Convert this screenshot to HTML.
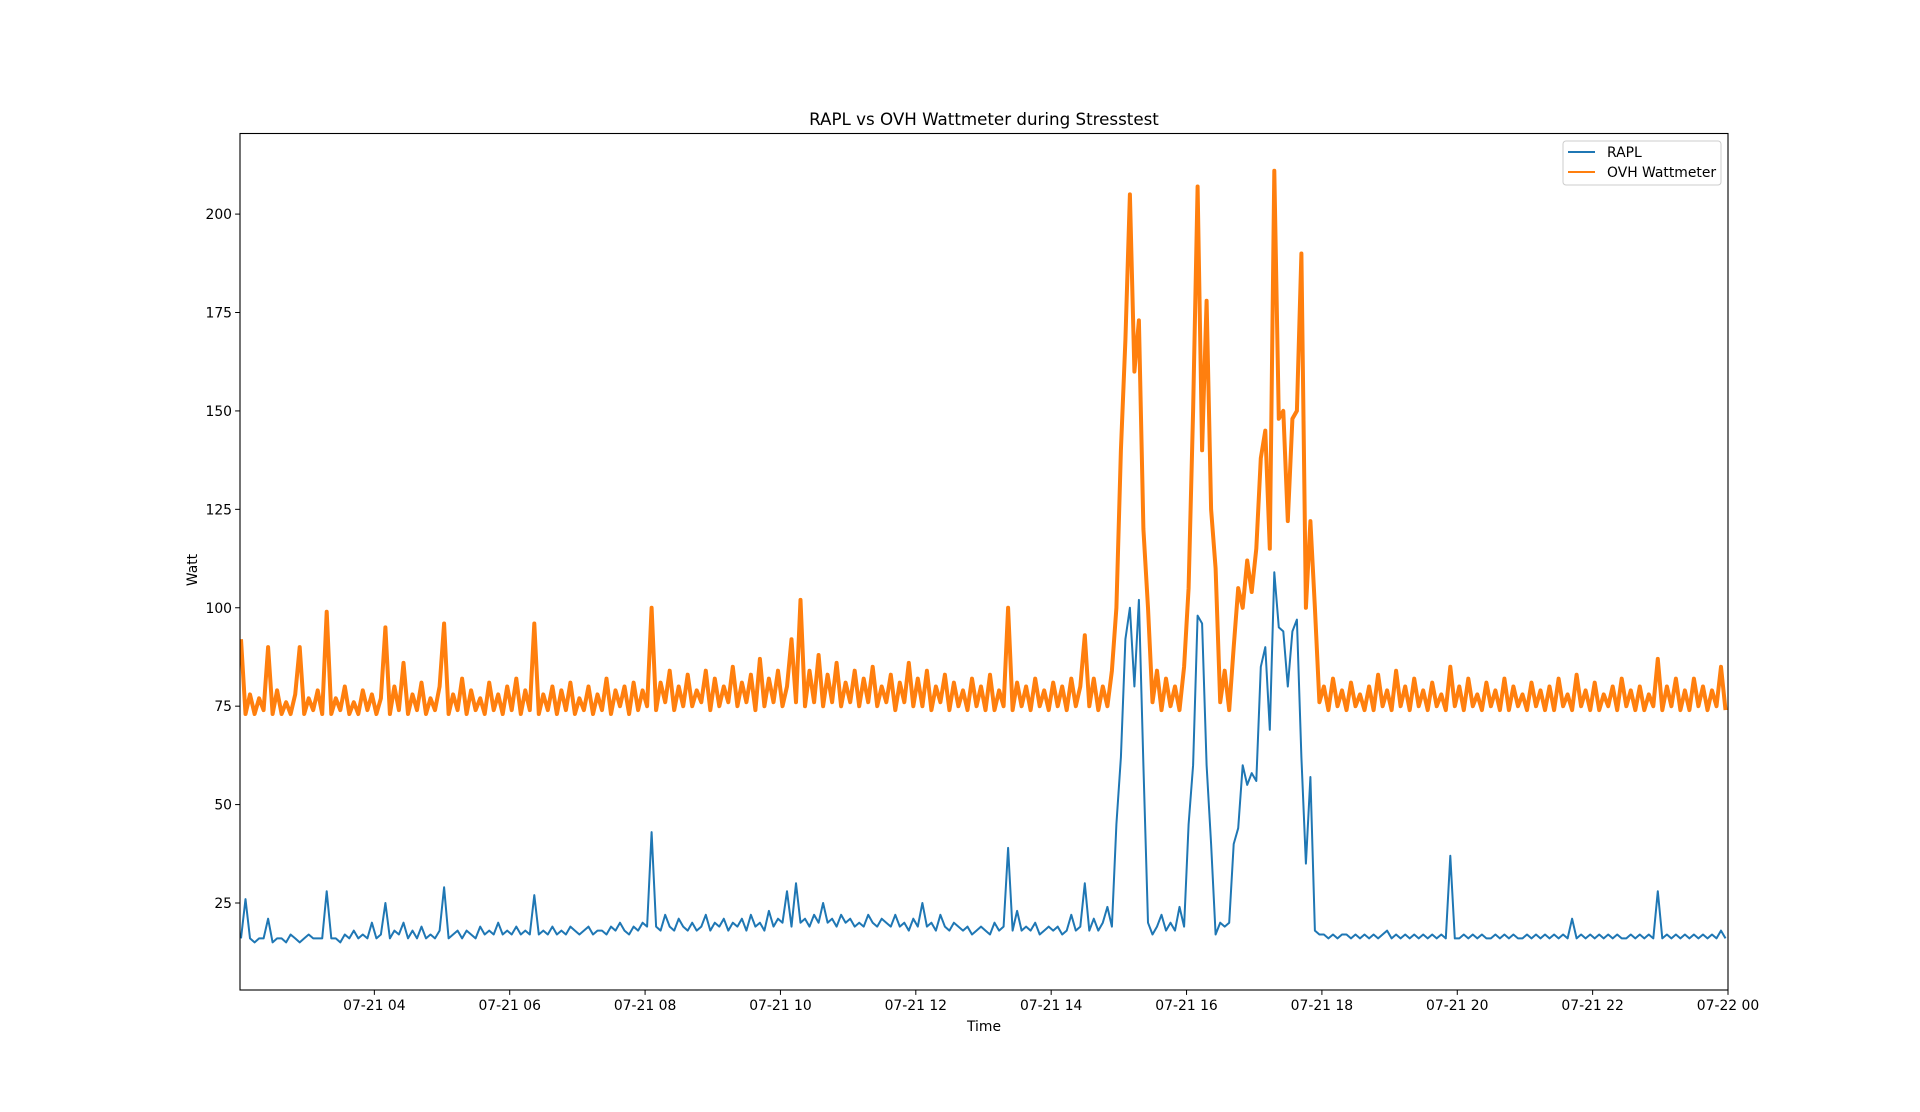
<!DOCTYPE html>
<html><head><meta charset="utf-8"><style>
html,body{margin:0;padding:0;background:#fff;}
svg{display:block;font-family:"DejaVu Sans","Liberation Sans",sans-serif;}
</style></head><body>
<svg id="chart" width="1920" height="1112" viewBox="0 0 1920 1112" xmlns="http://www.w3.org/2000/svg">
<rect width="1920" height="1112" fill="#fff"/>
<text x="984" y="125" font-size="16.7" text-anchor="middle" fill="#000">RAPL vs OVH Wattmeter during Stresstest</text>
<text x="984" y="1031" font-size="13.9" text-anchor="middle" fill="#000">Time</text>
<text x="0" y="0" font-size="13.9" text-anchor="middle" fill="#000" transform="translate(197,570) rotate(-90)">Watt</text>
<g id="ticks"></g>
<clipPath id="clip"><rect x="240" y="133" width="1488" height="857"/></clipPath>
<g id="lines" clip-path="url(#clip)"></g>
<rect x="240" y="133.5" width="1488" height="856.5" fill="none" stroke="#000" stroke-width="1.1"/>
<g>
<rect x="1563" y="141" width="158" height="44" rx="3" fill="#fff" fill-opacity="0.8" stroke="#ccc"/>
<line x1="1568" y1="152" x2="1595" y2="152" stroke="#1f77b4" stroke-width="2"/>
<text x="1607" y="157" font-size="13.9">RAPL</text>
<line x1="1568" y1="172" x2="1595" y2="172" stroke="#ff7f0e" stroke-width="2"/>
<text x="1607" y="177" font-size="13.9">OVH Wattmeter</text>
</g>
</svg>
<script>
const startHour = 2.03;
const stepHours = 1/15;
const xTickHours = [4,6,8,10,12,14,16,18,20,22,24];
const xTickLabels = ["07-21 04","07-21 06","07-21 08","07-21 10","07-21 12","07-21 14","07-21 16","07-21 18","07-21 20","07-21 22","07-22 00"];
const yTicks = [25,50,75,100,125,150,175,200];
const ovh = [
92,73,78,73,77,74,90,73,79,73, 76,73,78,90,73,77,74,79,73,99,
73,77,74,80,73,76,73,79,74,78, 73,77,95,73,80,74,86,73,78,74,
81,73,77,74,80,96,73,78,74,82, 73,79,74,77,73,81,74,78,73,80,
74,82,73,79,74,96,73,78,74,80, 73,79,74,81,73,77,74,80,73,78,
74,82,73,79,75,80,73,81,74,79, 75,100,74,81,76,84,74,80,75,83,
75,79,76,84,74,82,75,80,76,85, 75,81,76,83,74,87,75,82,76,84,
75,80,92,76,102,75,84,76,88,75, 83,76,86,75,81,76,84,75,82,76,
85,75,80,76,83,74,81,76,86,75, 82,75,84,74,80,76,83,74,81,75,
79,74,82,75,80,74,83,74,79,75, 100,74,81,75,80,74,82,75,79,74,
81,75,80,74,82,75,80,93,75,82, 74,80,75,84,100,140,168,205,160,173,
120,100,76,84,74,82,75,80,74,85, 105,150,207,140,178,125,110,76,84,74,
90,105,100,112,104,115,138,145,115,211, 148,150,122,148,150,190,100,122,100,76,
80,74,82,75,79,74,81,75,78,74, 80,74,83,75,79,74,84,75,80,74,
82,75,79,74,81,75,78,74,85,75, 80,74,82,75,78,74,81,75,79,74,
82,74,80,75,78,74,81,75,79,74, 80,74,82,75,78,74,83,75,79,74,
81,74,78,75,80,74,82,75,79,74, 80,74,78,75,87,74,80,75,82,74,
79,74,82,75,80,74,79,75,85,74];
const rapl = [
16,26,16,15,16,16,21,15,16,16, 15,17,16,15,16,17,16,16,16,28,
16,16,15,17,16,18,16,17,16,20, 16,17,25,16,18,17,20,16,18,16,
19,16,17,16,18,29,16,17,18,16, 18,17,16,19,17,18,17,20,17,18,
17,19,17,18,17,27,17,18,17,19, 17,18,17,19,18,17,18,19,17,18,
18,17,19,18,20,18,17,19,18,20, 19,43,19,18,22,19,18,21,19,18,
20,18,19,22,18,20,19,21,18,20, 19,21,18,22,19,20,18,23,19,21,
20,28,19,30,20,21,19,22,20,25, 20,21,19,22,20,21,19,20,19,22,
20,19,21,20,19,22,19,20,18,21, 19,25,19,20,18,22,19,18,20,19,
18,19,17,18,19,18,17,20,18,19, 39,18,23,18,19,18,20,17,18,19,
18,19,17,18,22,18,19,30,18,21, 18,20,24,19,45,62,92,100,80,102,
60,20,17,19,22,18,20,18,24,19, 45,60,98,96,60,40,17,20,19,20,
40,44,60,55,58,56,85,90,69,109, 95,94,80,94,97,62,35,57,18,17,
17,16,17,16,17,17,16,17,16,17, 16,17,16,17,18,16,17,16,17,16,
17,16,17,16,17,16,17,16,37,16, 16,17,16,17,16,17,16,16,17,16,
17,16,17,16,16,17,16,17,16,17, 16,17,16,17,16,21,16,17,16,17,
16,17,16,17,16,17,16,16,17,16, 17,16,17,16,28,16,17,16,17,16,
17,16,17,16,17,16,17,16,18,16];

const NS = "http://www.w3.org/2000/svg";
const X0 = 240, X1 = 1728, Y0 = 990, Y1 = 133;
const xMin = 2.015, xMax = 24.0, yMin = 2.9, yMax = 220.6;
function xScale(h){ return X0 + (h - xMin) / (xMax - xMin) * (X1 - X0); }
function yScale(v){ return Y0 - (v - yMin) / (yMax - yMin) * (Y0 - Y1); }

const ticks = document.getElementById('ticks');
xTickHours.forEach((h, i) => {
  const x = xScale(h);
  const l = document.createElementNS(NS, 'line');
  l.setAttribute('x1', x); l.setAttribute('x2', x);
  l.setAttribute('y1', Y0); l.setAttribute('y2', Y0 + 4.9);
  l.setAttribute('stroke', '#000');
  
  
  ticks.appendChild(l);
  const t = document.createElementNS(NS, 'text');
  t.setAttribute('x', x); t.setAttribute('y', Y0 + 20);
  t.setAttribute('font-size', '13.9');
  t.setAttribute('text-anchor', 'middle');
  t.textContent = xTickLabels[i];
  
  
  ticks.appendChild(t);
});
yTicks.forEach(v => {
  const y = yScale(v);
  const l = document.createElementNS(NS, 'line');
  l.setAttribute('x1', X0 - 4.9); l.setAttribute('x2', X0);
  l.setAttribute('y1', y); l.setAttribute('y2', y);
  l.setAttribute('stroke', '#000');
  
  
  ticks.appendChild(l);
  const t = document.createElementNS(NS, 'text');
  t.setAttribute('x', X0 - 8); t.setAttribute('y', y + 5);
  t.setAttribute('font-size', '13.9');
  t.setAttribute('text-anchor', 'end');
  t.textContent = v;
  
  
  ticks.appendChild(t);
});

const lines = document.getElementById('lines');
function drawSeries(vals, color, name, width){
  const pts = vals.map((v, i) => xScale(startHour + i * stepHours).toFixed(1) + ',' + yScale(v).toFixed(1)).join(' ');
  const p = document.createElementNS(NS, 'polyline');
  p.setAttribute('points', pts);
  p.setAttribute('fill', 'none');
  p.setAttribute('stroke', color);
  p.setAttribute('stroke-width', width);
  p.setAttribute('stroke-linejoin', 'round');
  
  
  lines.appendChild(p);
}
drawSeries(rapl, '#1f77b4', 'rapl-line', '2');
drawSeries(ovh, '#ff7f0e', 'ovh-wattmeter-line', '4');
</script>
</body></html>
